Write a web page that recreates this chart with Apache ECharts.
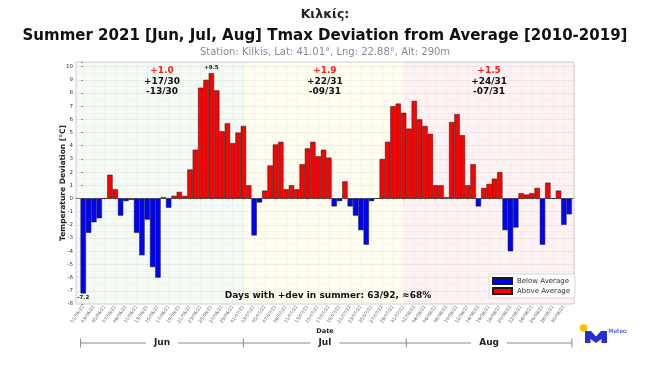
<!DOCTYPE html>
<html><head><meta charset="utf-8">
<script src="https://cdn.jsdelivr.net/npm/echarts@6/dist/echarts.min.js"></script>
<style>html,body{margin:0;padding:0;background:#fff}#c{width:650px;height:373px}</style>
</head><body><div id="c"></div>
<script>
// ---- data (°C deviation of daily Tmax from 2010-2019 average) ----
const juneDev = [-7.2,-2.6,-1.8,-1.5,0.0,1.8,0.7,-1.3,-0.2,-0.1,-2.6,-4.3,-1.6,-5.2,-6.0,0.1,-0.7,0.2,0.5,0.2,2.2,3.7,8.4,9.0,9.5,8.2,5.1,5.7,4.2,5.0];
const julyDev = [5.5,1.0,-2.8,-0.3,0.6,2.5,4.1,4.3,0.7,1.0,0.7,2.6,3.8,4.3,3.2,3.7,3.1,-0.6,-0.2,1.3,-0.6,-1.3,-2.4,-3.5,-0.2,0.0,3.0,4.3,7.0,7.2,6.5];
const augDev  = [5.3,7.4,6.0,5.5,4.9,1.0,1.0,0.1,5.8,6.4,4.8,1.0,2.6,-0.6,0.8,1.1,1.5,2.0,-2.4,-4.0,-2.2,0.4,0.3,0.4,0.8,-3.5,1.2,0.0,0.6,-2.0,-1.2];
const monthNames = ['Jun','Jul','Aug'];
const tickLabels = [
 '01/06/21','03/06/21','05/06/21','07/06/21','09/06/21','11/06/21','13/06/21','15/06/21','17/06/21','19/06/21','21/06/21','23/06/21','25/06/21','27/06/21','29/06/21',
 '01/07/21','03/07/21','05/07/21','07/07/21','09/07/21','11/07/21','13/07/21','15/07/21','17/07/21','19/07/21','21/07/21','23/07/21','25/07/21','27/07/21','29/07/21','31/07/21',
 '02/08/21','04/08/21','06/08/21','08/08/21','10/08/21','12/08/21','14/08/21','16/08/21','18/08/21','20/08/21','22/08/21','24/08/21','26/08/21','28/08/21','30/08/21'
];
const seriesNames = ['Below Average','Above Average'];
const stationName = 'Κιλκίς:';
const mainTitle = 'Summer 2021 [Jun, Jul, Aug] Tmax Deviation from Average [2010-2019]';
const subTitle = 'Station: Kilkis, Lat: 41.01°, Lng: 22.88°, Alt: 290m';

// ---- layout ----
const FONT = 'DejaVu Sans';
const X_MIN = -1.35, X_MAX = 91.9;
const shadeEdges = [X_MIN, 30, 60, X_MAX];
const bracketEdges = [-0.5, 30, 60.5, 91.5];
const shadeColors = ['rgba(0,150,0,0.045)','rgba(255,240,0,0.06)','rgba(255,0,0,0.05)'];

const months = [juneDev, julyDev, augDev];
const all = juneDev.concat(julyDev, augDev);
const aboveData = [], belowData = [];
all.forEach((v,i)=>{ if (v >= 0) aboveData.push([i,v]); else belowData.push([i,v]); });
const tickIdx = tickLabels.map((_,k)=>k*2);

const chart = echarts.init(document.getElementById('c'), null, {renderer:'canvas'});
chart.setOption({
  animation:false,
  textStyle:{fontFamily:FONT},
  title:[
    {text:stationName, left:'center', top:3, textStyle:{fontFamily:FONT,fontSize:12.5,fontWeight:'bold',color:'#222'}},
    {text:mainTitle, left:'center', top:23.5, textStyle:{fontFamily:FONT,fontSize:15,fontWeight:'bold',color:'#111'}},
    {text:subTitle, left:'center', top:42.5, textStyle:{fontFamily:FONT,fontSize:10,fontWeight:'normal',color:'#8a8a8a'}}
  ],
  legend:{
    data:seriesNames, orient:'vertical', left:489, top:274, itemWidth:19, itemHeight:6, itemGap:2,
    padding:[3,5,3,3], backgroundColor:'rgba(255,255,255,0.9)', borderColor:'#d8d8d8', borderWidth:1, borderRadius:2,
    textStyle:{fontSize:7,color:'#333',fontFamily:FONT}, icon:'rect'
  },
  grid:{left:76,right:76,top:62,bottom:69,show:true,backgroundColor:'#fff',borderColor:'#d0d0d0',borderWidth:1},
  xAxis:{
    type:'value', min:X_MIN, max:X_MAX,
    name:'Date', nameLocation:'middle', nameGap:24, nameMoveOverlap:false,
    nameTextStyle:{fontSize:6.5,fontWeight:'bold',color:'#222',fontFamily:FONT},
    axisLine:{show:false}, splitLine:{show:false},
    axisTick:{show:true, customValues:tickIdx, length:2, lineStyle:{color:'#888'}},
    axisLabel:{customValues:tickIdx, rotate:55, fontSize:4.5, color:'#555', margin:2, fontFamily:FONT,
      formatter:v=>tickLabels[Math.round(v/2)] || ''}
  },
  yAxis:{
    type:'value', min:-8, max:10.35, interval:1,
    name:'Temperature Deviation [°C]', nameLocation:'middle', nameGap:9, nameRotate:90, nameMoveOverlap:false,
    nameTextStyle:{fontSize:7.5,fontWeight:'bold',color:'#222',fontFamily:FONT},
    axisLine:{show:false},
    axisTick:{show:true,length:2,lineStyle:{color:'#888'}},
    axisLabel:{fontSize:5.5,color:'#333',margin:3,fontFamily:FONT, formatter:v=>Number.isInteger(v)?String(v):''},
    splitLine:{lineStyle:{color:'#e6e6e6',width:0.6}},
    minorTick:{show:false,splitNumber:2},
    minorSplitLine:{show:true,lineStyle:{color:'#f2f2f2',width:0.5}}
  },
  series:[
    {
      name:seriesNames[0], type:'bar', data:belowData, barWidth:5.34, barGap:'-100%',
      itemStyle:{color:'#0000ff', borderColor:'#1a1a1a', borderWidth:0.5},
      markArea:{silent:true, z:1, data:shadeEdges.slice(0,3).map((e,k)=>[{xAxis:e, itemStyle:{color:shadeColors[k]}},{xAxis:shadeEdges[k+1]}])},
      markLine:{silent:true, symbol:'none', z:1.5, label:{show:false}, lineStyle:{color:'#ededed',width:0.6,type:'solid'},
        data:tickIdx.map(i=>({xAxis:i}))},
      markPoint:{symbol:'circle', symbolSize:0, data:[{type:'min', valueDim:'y'}],
        label:{show:true, position:'bottom', distance:1, fontSize:5.5, fontWeight:'bold', color:'#111', fontFamily:FONT,
          formatter:p=>Number(p.value).toFixed(1)}}
    },
    {
      name:seriesNames[1], type:'bar', data:aboveData, barWidth:5.34, barGap:'-100%',
      itemStyle:{color:'#ff0000', borderColor:'#1a1a1a', borderWidth:0.5},
      markLine:{silent:true, symbol:'none', z:1.6, label:{show:false}, lineStyle:{color:'#7a7a7a',width:1,type:'solid'},
        data:[{yAxis:0}]},
      markPoint:{symbol:'circle', symbolSize:0, data:[{type:'max', valueDim:'y'}],
        label:{show:true, position:'top', distance:3, fontSize:5.5, fontWeight:'bold', color:'#111', fontFamily:FONT,
          formatter:p=>'+'+Number(p.value).toFixed(1)}}
    }
  ]
});

// ---- annotations via the chart's own scales ----
const px = (x,y)=>chart.convertToPixel({gridIndex:0},[x,y]);
const g = [];
const txt = (x,y,text,size,color,weight,extra)=>({type:'text', x:x, y:y, z:100, silent:true,
  style:Object.assign({text:text, fontSize:size, fontFamily:FONT, fontWeight:weight||'bold', fill:color, align:'center', verticalAlign:'middle'}, extra||{})});
let posTotal = 0;
months.forEach((arr,m)=>{
  const n = arr.length;
  const mean = arr.reduce((a,b)=>a+b,0)/n;
  const pos = arr.filter(v=>v>=0).length, neg = n-pos;
  posTotal += pos;
  const cx = px((bracketEdges[m]+bracketEdges[m+1])/2, 0)[0];
  g.push(txt(cx, 71, (mean>=0?'+':'')+mean.toFixed(1), 9, '#ff1a1a'));
  g.push(txt(cx, 81.5, '+'+String(pos).padStart(2,'0')+'/'+n, 9, '#111'));
  g.push(txt(cx, 91.5, '-'+String(neg).padStart(2,'0')+'/'+n, 9, '#111'));
});
const plotMid = px((X_MIN+X_MAX)/2, 0)[0];
g.push(txt(plotMid+3, px(0,-7.4)[1], 'Days with +dev in summer: '+posTotal+'/'+all.length+', ≈'+Math.round(posTotal/all.length*100)+'%', 9, '#111'));

// month bracket
const by = 343;
const bx = bracketEdges.map(e=>px(e,0)[0]);
g.push({type:'line', z:100, silent:true, shape:{x1:bx[0],y1:by,x2:bx[3],y2:by}, style:{stroke:'#8a8a8a',lineWidth:1}});
bx.forEach(x=>g.push({type:'line', z:100, silent:true, shape:{x1:x,y1:by-4.5,x2:x,y2:by+4.5}, style:{stroke:'#8a8a8a',lineWidth:1}}));
monthNames.forEach((nm,m)=>{
  g.push(Object.assign(txt((bx[m]+bx[m+1])/2, by, nm, 9, '#222', 'bold', {backgroundColor:'#fff', padding:[0,8]}), {z:101}));
});

// logo
g.push({type:'circle', z:100, silent:true, shape:{cx:583.5,cy:328,r:3.8}, style:{fill:'#f5c400'}});
g.push({type:'polygon', z:100, silent:true, shape:{points:[[585,343],[585,331],[591,331],[596,336.5],[601,331],[607,331],[607,343],[601.5,343],[601.5,339],[596,343],[590.5,339],[590.5,343]]}, style:{fill:'#2430d0'}});
g.push(txt(617.5, 331, 'Meteo', 6, '#2430d0', 'normal'));

chart.setOption({graphic:{elements:g}});
</script></body></html>
